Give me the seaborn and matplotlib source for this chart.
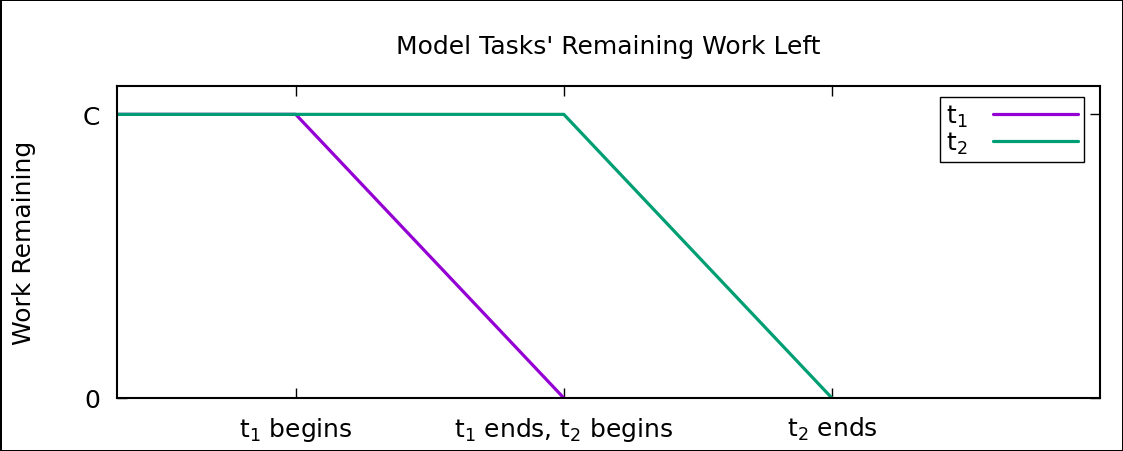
import pandas as pd
import seaborn as sns
import matplotlib.pyplot as plt

# Data: time positions and remaining work for each task
t1_time = [0, 2, 5]
t1_work = [1, 1, 0]
t2_time = [0, 5, 8]
t2_work = [1, 1, 0]
tick_pos = [2, 5, 8]
tick_labels = ['$t_1$ begins', '$t_1$ ends, $t_2$ begins', '$t_2$ ends']

df = pd.concat([
    pd.DataFrame({'time': t1_time, 'work': t1_work, 'task': '$t_1$'}),
    pd.DataFrame({'time': t2_time, 'work': t2_work, 'task': '$t_2$'}),
])

sns.set_style('ticks')
plt.rcParams['font.family'] = ['DejaVu Sans']
plt.rcParams['mathtext.default'] = 'regular'
plt.rcParams['text.color'] = 'black'
plt.rcParams['axes.labelcolor'] = 'black'
plt.rcParams['xtick.color'] = 'black'
plt.rcParams['ytick.color'] = 'black'

fig = plt.figure(figsize=(11.23, 4.52), dpi=100, edgecolor='black', linewidth=2)
ax = fig.add_axes([117/1123, 1 - 399/452, (1100 - 117)/1123, (399 - 87)/452])

sns.lineplot(data=df, x='time', y='work', hue='task',
             palette=['#9400d3', '#009e73'], linewidth=2.3, ax=ax)

ax.set_xlim(0, 11)
ax.set_ylim(0, 1.1)
ax.set_xticks(tick_pos)
ax.set_xticklabels(tick_labels, fontsize=18)
ax.set_yticks([0, 1])
ax.set_yticklabels(['0', 'C'], fontsize=18)
ax.tick_params(direction='in', length=7, width=1, top=True, right=True, pad=12)
for s in ax.spines.values():
    s.set_linewidth(1.5)
    s.set_color('black')
ax.set_xlabel('')
ax.set_ylabel('Work Remaining', fontsize=18, labelpad=34)
ax.set_title("Model Tasks' Remaining Work Left", fontsize=18, pad=24)

leg = ax.legend(loc='upper right', markerfirst=False, fontsize=18, fancybox=False,
                framealpha=1, edgecolor='black', handlelength=3.4, handletextpad=1.0,
                bbox_to_anchor=(0.9835, 0.965), borderaxespad=0, borderpad=0.25,
                labelspacing=0.0)
leg.get_frame().set_linewidth(1)

fig.savefig('out.png', dpi=100)
